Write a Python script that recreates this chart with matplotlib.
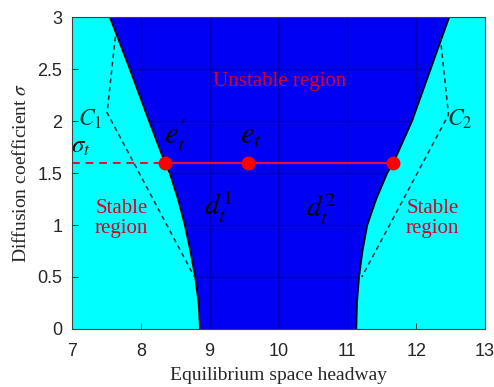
import numpy as np
import matplotlib
matplotlib.use("Agg")
import matplotlib.pyplot as plt
from matplotlib.patches import Polygon

plt.rcParams['mathtext.fontset'] = 'stix'

# Stability boundary: headway limits for each diffusion coefficient
sigma = [0.0, 0.25, 0.5, 0.75, 1.0, 1.25, 1.5, 1.6, 2.0, 2.5, 3.0]
left_bound = [8.86, 8.84, 8.79, 8.72, 8.64, 8.54, 8.42, 8.35, 8.12, 7.84, 7.55]
right_bound = [11.13, 11.14, 11.17, 11.22, 11.29, 11.42, 11.58, 11.67, 11.94, 12.21, 12.48]

# Dashed approximations C1 and C2 (x, sigma)
c1_x = [7.63, 7.51, 8.78]
c1_y = [2.81, 2.08, 0.50]
c2_x = [12.35, 12.47, 11.21]
c2_y = [2.81, 2.06, 0.50]

# Operating level sigma_t and the marked equilibria
sigma_t = 1.6
e_left = 8.35
e_mid = 9.56
e_right = 11.67

xticks = [7, 8, 9, 10, 11, 12, 13]
yticks = [0, 0.5, 1, 1.5, 2, 2.5, 3]
ytick_labels = ['0', '0.5', '1', '1.5', '2', '2.5', '3']

fig = plt.figure(figsize=(4.94, 3.87), dpi=100)
ax = fig.add_axes([0.1457, 0.1499, 0.8361, 0.8061])
ax.set_xlim(7, 13)
ax.set_ylim(0, 3)

cyan = '#00ffff'
blue = '#0000f5'
ax.set_facecolor(cyan)

# Unstable region between the two boundaries
verts = list(zip(left_bound, sigma)) + list(zip(right_bound[::-1], sigma[::-1]))
poly = Polygon(verts, closed=True, facecolor=blue, edgecolor='none', zorder=1)
ax.add_patch(poly)
ax.plot(left_bound, sigma, color='k', lw=1.3, zorder=3)
ax.plot(right_bound, sigma, color='k', lw=1.3, zorder=3)

# Grid, visible only inside the unstable region
grid_color = '#0000b0'
for xv in xticks:
    ln, = ax.plot([xv, xv], [0, 3], color=grid_color, lw=1.0, zorder=2, snap=True)
    ln.set_clip_path(poly)
for yv in yticks:
    ln, = ax.plot([7, 13], [yv, yv], color=grid_color, lw=1.0, zorder=2, snap=True)
    ln.set_clip_path(poly)

ax.set_xticks(xticks)
ax.set_yticks(yticks)
ax.set_yticklabels(ytick_labels)

# Dashed curves
ax.plot(c1_x, c1_y, color='#103030', lw=1.1, ls=(0, (3, 2.5)), zorder=3)
ax.plot(c2_x, c2_y, color='#103030', lw=1.1, ls=(0, (3, 2.5)), zorder=3)

# sigma_t level
red_line = '#e0103a'
ax.plot([7, e_left], [sigma_t, sigma_t], color=red_line, lw=1.4, ls=(0, (4, 3)), zorder=4)
ax.plot([e_left, e_right], [sigma_t, sigma_t], color=red_line, lw=1.5, zorder=4)
ax.plot([e_left, e_mid, e_right], [sigma_t] * 3, 'o', color='#ff0000',
        markersize=9, zorder=5)

# Annotations
txt_red = '#d8002a'
ax.text(10.02, 2.38, 'Unstable region', color=txt_red, fontsize=15,
        family='Liberation Serif', ha='center', va='center', zorder=6)
ax.text(7.72, 1.06, 'Stable\nregion', color=txt_red, fontsize=15,
        family='Liberation Serif', ha='center', va='center', linespacing=1.05, zorder=6)
ax.text(12.24, 1.06, 'Stable\nregion', color=txt_red, fontsize=15,
        family='Liberation Serif', ha='center', va='center', linespacing=1.05, zorder=6)

ax.text(7.27, 2.02, r'$C_1$', fontsize=17, color='#103030', ha='center', va='center', zorder=6)
ax.text(12.64, 2.02, r'$C_2$', fontsize=17, color='#103030', ha='center', va='center', zorder=6)
ax.text(7.13, 1.76, r'$\sigma_t$', fontsize=18, color='#101010', ha='center', va='center', zorder=6)
ax.text(8.5, 1.86, r"$e_t^{\prime}$", fontsize=22, color='k', ha='center', va='center', zorder=6)
ax.text(9.6, 1.86, r'$e_t$', fontsize=22, color='k', ha='center', va='center', zorder=6)
ax.text(9.12, 1.17, r'$d_t^1$', fontsize=21, color='k', ha='center', va='center', zorder=6)
ax.text(10.62, 1.15, r'$d_t^2$', fontsize=21, color='k', ha='center', va='center', zorder=6)

# Axes styling
ax.tick_params(direction='in', length=4, width=0.6, top=False, right=False,
               labelsize=13, colors='#262626')
ax.tick_params(axis='x', pad=10)
ax.tick_params(axis='y', pad=7)
for lbl in ax.get_xticklabels() + ax.get_yticklabels():
    lbl.set_family('Liberation Sans')
for sp in ax.spines.values():
    sp.set_color('#404040')
    sp.set_linewidth(0.8)
    sp.set_zorder(7)

ax.set_xlabel('Equilibrium space headway', family='Liberation Serif', fontsize=14,
              color='#262626', labelpad=5)
ax.set_ylabel(r'Diffusion coefficient $\sigma$', family='Liberation Serif', fontsize=14,
              color='#262626', labelpad=5)

fig.savefig('out.png', dpi=100)
